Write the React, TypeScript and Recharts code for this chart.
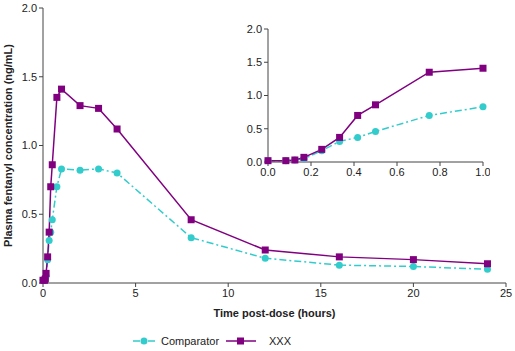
import React from "react";
import {
  LineChart,
  Line,
  XAxis,
  YAxis,
  Label,
} from "recharts";

const times = [0, 0.083, 0.125, 0.167, 0.25, 0.333, 0.417, 0.5, 0.75, 1, 2, 3, 4, 8, 12, 16, 20, 24];
const comparator = [0.02, 0.02, 0.03, 0.05, 0.17, 0.31, 0.37, 0.46, 0.7, 0.83, 0.82, 0.83, 0.8, 0.33, 0.18, 0.13, 0.12, 0.1];
const xxx = [0.02, 0.02, 0.03, 0.07, 0.19, 0.37, 0.7, 0.86, 1.35, 1.41, 1.29, 1.27, 1.12, 0.46, 0.24, 0.19, 0.17, 0.14];

const mainXTicks = [0, 5, 10, 15, 20, 25];
const insetXTicks = [0, 0.2, 0.4, 0.6, 0.8, 1.0];
const yTicks = [0, 0.5, 1.0, 1.5, 2.0];

const CYAN = "#33cccc";
const PURPLE = "#800080";
const AXIS = "#444";
const FONT = "'Liberation Sans', Arial, sans-serif";

const data = times.map((t, i) => ({ t, comparator: comparator[i], xxx: xxx[i] }));
const insetData = data.filter((d) => d.t <= 1);

const tickStyle = { fontSize: 11, fill: "#222", fontFamily: FONT };

const SquareDot = (props: any) => {
  const { cx, cy, index } = props;
  if (cx == null || cy == null) return null;
  return <rect key={`sq-${index}`} x={cx - 3.5} y={cy - 3.5} width={7} height={7} fill={PURPLE} />;
};

const CircleDot = (props: any) => {
  const { cx, cy, index } = props;
  if (cx == null || cy == null) return null;
  return <circle key={`ci-${index}`} cx={cx} cy={cy} r={3.5} fill={CYAN} />;
};

// legend drawn by hand so it doesn't eat plot height
const LegendBox = () => (
  <svg width={515} height={16} style={{ position: "absolute", left: 0, top: 333 }}>
    <line x1={133} y1={8} x2={156} y2={8} stroke={CYAN} strokeWidth={1.5} strokeDasharray="7 3 2 3" />
    <circle cx={144} cy={8} r={3.5} fill={CYAN} />
    <text x={161} y={12} fontSize={11} fontFamily={FONT} fill="#222">Comparator</text>
    <line x1={226} y1={8} x2={256} y2={8} stroke={PURPLE} strokeWidth={1.5} />
    <rect x={237} y={4.5} width={7} height={7} fill={PURPLE} />
    <text x={269} y={12} fontSize={11} fontFamily={FONT} fill="#222">XXX</text>
  </svg>
);

export default function App() {
  return (
    <div style={{ position: "absolute", left: 0, top: 0, width: 515, height: 351, background: "#fff" }}>
      <LineChart width={515} height={351} data={data} margin={{ top: 8, right: 9, bottom: 28, left: 0 }}>
        <XAxis
          dataKey="t"
          type="number"
          domain={[0, 25]}
          ticks={mainXTicks}
          stroke={AXIS}
          tickSize={4}
          tick={tickStyle}
          height={40}
        >
          <Label
            value="Time post-dose (hours)"
            position="insideBottom"
            offset={6}
            style={{ fontSize: 11, fontWeight: "bold", fontFamily: FONT, fill: "#222" }}
          />
        </XAxis>
        <YAxis
          type="number"
          domain={[0, 2]}
          ticks={yTicks}
          tickFormatter={(v: number) => v.toFixed(1)}
          stroke={AXIS}
          tickSize={4}
          tick={tickStyle}
          width={43}
        >
          <Label
            value="Plasma fentanyl concentration (ng/mL)"
            angle={-90}
            position="insideLeft"
            offset={8}
            style={{ fontSize: 11, fontWeight: "bold", fontFamily: FONT, fill: "#222", textAnchor: "middle" }}
          />
        </YAxis>
        <Line
          dataKey="comparator"
          stroke={CYAN}
          strokeWidth={1.5}
          strokeDasharray="7 3 2 3"
          dot={CircleDot}
          isAnimationActive={false}
        />
        <Line dataKey="xxx" stroke={PURPLE} strokeWidth={1.5} dot={SquareDot} isAnimationActive={false} />
      </LineChart>
      <div style={{ position: "absolute", left: 230, top: 20 }}>
        <LineChart width={260} height={170} data={insetData} margin={{ top: 9, right: 7, bottom: 0, left: 0 }}>
          <XAxis
            dataKey="t"
            type="number"
            domain={[0, 1]}
            ticks={insetXTicks}
            tickFormatter={(v: number) => v.toFixed(1)}
            stroke={AXIS}
            tickSize={4}
            tick={tickStyle}
            height={28}
          />
          <YAxis
            type="number"
            domain={[0, 2]}
            ticks={yTicks}
            tickFormatter={(v: number) => v.toFixed(1)}
            stroke={AXIS}
            tickSize={4}
            tick={tickStyle}
            width={38}
          />
          <Line
            dataKey="comparator"
            stroke={CYAN}
            strokeWidth={1.5}
            strokeDasharray="7 3 2 3"
            dot={CircleDot}
            isAnimationActive={false}
          />
          <Line dataKey="xxx" stroke={PURPLE} strokeWidth={1.5} dot={SquareDot} isAnimationActive={false} />
        </LineChart>
      </div>
      <LegendBox />
    </div>
  );
}
